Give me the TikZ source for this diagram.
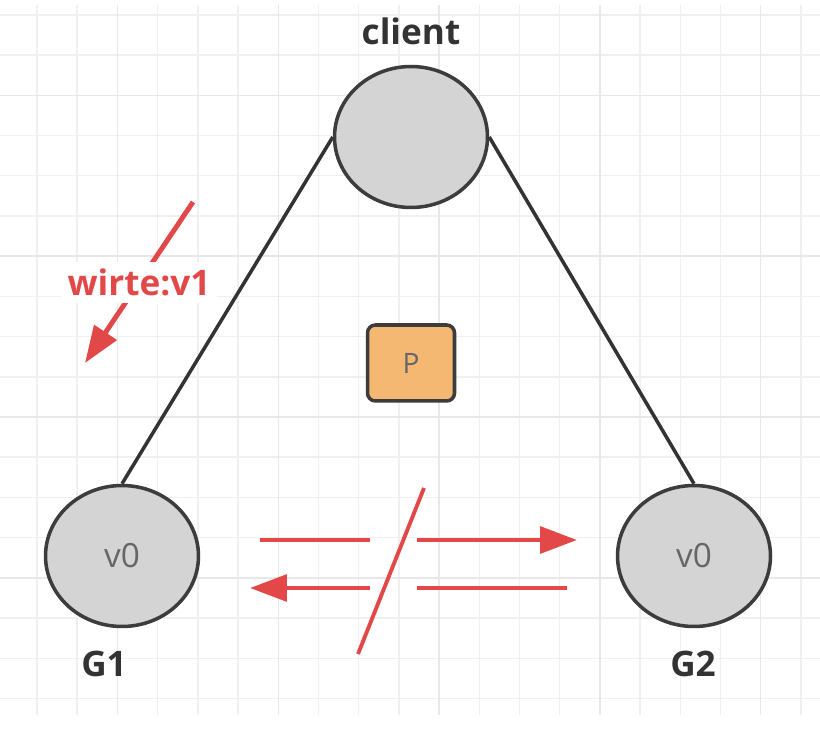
\documentclass[tikz,border=0pt]{standalone}
\usepackage{fontspec}
\setmainfont{Open Sans}
\usetikzlibrary{positioning,shapes.geometric,arrows.meta}

\definecolor{gridminor}{HTML}{F0F0F0}
\definecolor{gridmajor}{HTML}{E8E8E8}
\definecolor{nodefill}{HTML}{D4D4D4}
\definecolor{nodeline}{HTML}{3C3C3C}
\definecolor{boxfill}{HTML}{F5B872}
\definecolor{msgred}{HTML}{E24848}
\definecolor{txtgray}{HTML}{666666}
\definecolor{txtdark}{HTML}{333333}

\tikzset{
  server/.style={ellipse,draw=nodeline,fill=nodefill,line width=2pt,
    minimum width=3.06cm,minimum height=2.82cm,inner sep=0pt,
    text=txtgray,font=\fontsize{19}{21}\selectfont},
  partbox/.style={rectangle,rounded corners=4.5pt,draw=nodeline,fill=boxfill,
    line width=2pt,minimum width=1.74cm,minimum height=1.52cm,
    text=txtgray,font=\fontsize{16}{18}\selectfont},
  lbl/.style={text=txtdark,font=\bfseries\fontsize{20}{22}\selectfont},
  link/.style={draw=txtdark,line width=2pt},
  msg/.style={draw=msgred,line width=2.8pt},
  msgarrow/.style={msg,-{Triangle[length=21pt,width=15pt]}},
  msglbl/.style={fill=white,text=msgred,inner sep=4pt,
    font=\bfseries\fontsize{20}{22}\selectfont}
}

\begin{document}
\begin{tikzpicture}[x=0.02cm,y=-0.02cm]
        \useasboundingbox (0,0) rectangle (820,732);
        \fill[white] (0,0) rectangle (820,732);
        % background grid
        \foreach \i in {0,...,19}
            \draw[gridminor,line width=0.8pt] ({37+40.2*\i},5) -- ({37+40.2*\i},715);
        \foreach \j in {0,...,17}
            \draw[gridminor,line width=0.8pt] (0,{15+40.2*\j}) -- (820,{15+40.2*\j});
        \foreach \i in {2,6,10,14,18}
            \draw[gridmajor,line width=0.8pt] ({37+40.2*\i},5) -- ({37+40.2*\i},715);
        \foreach \j in {2,6,10,14}
            \draw[gridmajor,line width=0.8pt] (0,{15+40.2*\j}) -- (820,{15+40.2*\j});

        \node(client) [server] at (411,137) {};
        \node(G1) [server] at (122,556) {v0};
        \node(G2) [server] at (694,556) {v0};
        \node(P) [partbox] at (411,363) {P};
        \node(clientlbl) [lbl] at (411,31) {client};
        \node(G1lbl) [lbl] at (104,664) {G1};
        \node(G2lbl) [lbl] at (693,664) {G2};

        \draw[link] (client.west) -- (G1.north);
        \draw[link] (client.east) -- (G2.north);

        % write request
        \coordinate (w1) at (193,202);
        \coordinate (w2) at (85,363);
        \draw[msgarrow] (w1) -- node[msglbl] {wirte:v1} (w2);

        % partition between G1 and G2
        \coordinate (a1) at (260,540);
        \coordinate (a2) at (370,540);
        \coordinate (a3) at (417,540);
        \coordinate (a4) at (577,540);
        \coordinate (b1) at (370,588);
        \coordinate (b2) at (250,588);
        \coordinate (b3) at (417,588);
        \coordinate (b4) at (567,588);
        \coordinate (s1) at (424,488);
        \coordinate (s2) at (358,654);
        \draw[msg] (a1) -- (a2);
        \draw[msgarrow] (a3) -- (a4);
        \draw[msgarrow] (b1) -- (b2);
        \draw[msg] (b3) -- (b4);
        \draw[msg,line width=2.2pt] (s1) -- (s2);
    \end{tikzpicture}
\end{document}
